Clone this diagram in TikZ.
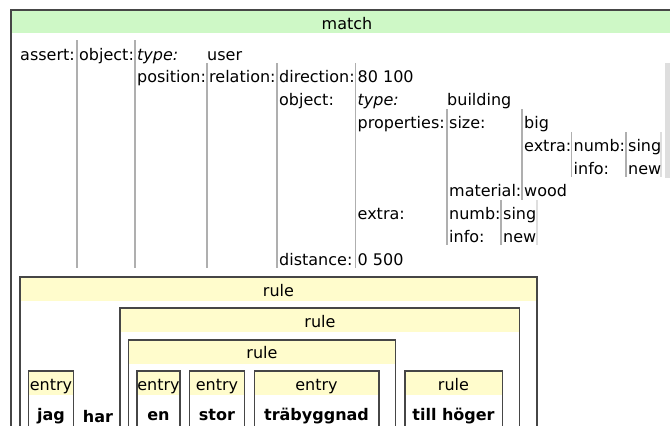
\documentclass[tikz,border=0pt]{standalone}
\usepackage{fontspec}
\setmainfont{DejaVu Sans}
\definecolor{matchGreen}{RGB}{206,248,198}
\definecolor{ruleYellow}{RGB}{255,252,204}
\definecolor{boxLine}{RGB}{70,70,70}
\definecolor{sepLine}{RGB}{175,175,175}
\definecolor{sepLight}{RGB}{222,222,222}
\begin{document}
\begin{tikzpicture}[x=1pt,y=-1pt]
		\tikzstyle{Key} = [anchor=base west, inner sep=0pt, font=\fontsize{16}{18}\selectfont]
		\tikzstyle{Type} = [Key, font=\fontsize{16}{18}\selectfont\itshape]
		\tikzstyle{Head} = [anchor=base, inner sep=0pt, font=\fontsize{16}{18}\selectfont]
		\tikzstyle{Word} = [anchor=base, inner sep=0pt, font=\fontsize{16}{18}\selectfont\bfseries]
		\tikzstyle{RuleBox} = [draw=boxLine, line width=1.3pt]
		\tikzstyle{Sep} = [draw=sepLine, line width=1.4pt]
		\tikzstyle{SepEnd} = [draw=sepLight, line width=1.4pt]
		
		\clip (0,0) rectangle (670,426);
		\fill [white] (0,0) rectangle (670,426);
		
		% match frame
		\fill [matchGreen] (11,10) rectangle (672,33);
		\draw [boxLine, line width=1.5pt] (11,450) -- (11,10) -- (672,10);
		\node (matchHead) [Head] at (347,29) {match};
		
		% column separators of the feature structure
		\draw [Sep] (77,40) -- (77,268);
		\draw [Sep] (135,40) -- (135,268);
		\draw [Sep] (207,63) -- (207,268);
		\draw [Sep] (277,63) -- (277,268);
		\draw [Sep] (355.5,63) -- (355.5,268);
		\draw [Sep] (447,109) -- (447,245);
		\draw [Sep] (522,109) -- (522,200);
		\draw [Sep] (571.5,132) -- (571.5,177);
		\draw [Sep] (626,132) -- (626,177);
		\draw [Sep] (501,200) -- (501,245);
		\draw [SepEnd] (537,200) -- (537,245);
		\draw [SepEnd] (661,132) -- (661,177);
		\fill [sepLight] (665,63) rectangle (670,178);
		
		\node (assertKey) [Key] at (20,60) {assert:};
		\node (objectKey) [Key] at (79,60) {object:};
		\node (typeKey) [Type] at (137,60) {type:};
		\node (userVal) [Key] at (207,60) {user};
		\node (positionKey) [Key] at (137,82.8) {position:};
		\node (relationKey) [Key] at (209,82.8) {relation:};
		\node (directionKey) [Key] at (279,82.8) {direction:};
		\node (directionVal) [Key] at (357.5,82.8) {80 100};
		\node (objKey) [Key] at (279,105.6) {object:};
		\node (objTypeKey) [Type] at (357.5,105.6) {type:};
		\node (buildingVal) [Key] at (447,105.6) {building};
		\node (propKey) [Key] at (357.5,128.4) {properties:};
		\node (sizeKey) [Key] at (449,128.4) {size:};
		\node (bigVal) [Key] at (524,128.4) {big};
		\node (sizeExtraKey) [Key] at (524,151.2) {extra:};
		\node (sizeNumbKey) [Key] at (573.5,151.2) {numb:};
		\node (sizeNumbVal) [Key] at (628,151.2) {sing};
		\node (sizeInfoKey) [Key] at (573.5,174) {info:};
		\node (sizeInfoVal) [Key] at (628,174) {new};
		\node (materialKey) [Key] at (449,196.8) {material:};
		\node (woodVal) [Key] at (524,196.8) {wood};
		\node (extraKey) [Key] at (357.5,219.6) {extra:};
		\node (numbKey) [Key] at (449,219.6) {numb:};
		\node (numbVal) [Key] at (503,219.6) {sing};
		\node (infoKey) [Key] at (449,242.4) {info:};
		\node (infoVal) [Key] at (503,242.4) {new};
		\node (distanceKey) [Key] at (279,265.2) {distance:};
		\node (distanceVal) [Key] at (357.5,265.2) {0 500};
		
		% nested rule boxes
		\fill [ruleYellow] (20,277) rectangle (537,300.5);
		\draw [RuleBox] (20,450) -- (20,277) -- (537,277) -- (537,450);
		\node (ruleA) [Head] at (278.5,296) {rule};
		
		\fill [ruleYellow] (120,308) rectangle (519.5,332);
		\draw [RuleBox] (120,450) -- (120,308) -- (519.5,308) -- (519.5,450);
		\node (ruleB) [Head] at (320,327) {rule};
		
		\fill [ruleYellow] (128.5,340) rectangle (395.5,363.5);
		\draw [RuleBox] (128.5,450) -- (128.5,340) -- (395.5,340) -- (395.5,450);
		\node (ruleC) [Head] at (262,358.5) {rule};
		
		% entry boxes
		\fill [ruleYellow] (28.5,371) rectangle (73.5,395);
		\draw [RuleBox] (28.5,450) -- (28.5,371) -- (73.5,371) -- (73.5,450);
		\node (jagHead) [Head] at (51,390.5) {entry};
		\node (jagWord) [Word] at (51,420) {jag};
		
		\node (harWord) [Word] at (98,422) {har};
		
		\fill [ruleYellow] (137,371) rectangle (180,395);
		\draw [RuleBox] (137,450) -- (137,371) -- (180,371) -- (180,450);
		\node (enHead) [Head] at (158.5,390.5) {entry};
		\node (enWord) [Word] at (158.5,420) {en};
		
		\fill [ruleYellow] (189.5,371) rectangle (244.5,395);
		\draw [RuleBox] (189.5,450) -- (189.5,371) -- (244.5,371) -- (244.5,450);
		\node (storHead) [Head] at (217,390.5) {entry};
		\node (storWord) [Word] at (217,420) {stor};
		
		\fill [ruleYellow] (254.5,371) rectangle (379,395);
		\draw [RuleBox] (254.5,450) -- (254.5,371) -- (379,371) -- (379,450);
		\node (traHead) [Head] at (316.5,390.5) {entry};
		\node (traWord) [Word] at (316.5,420) {träbyggnad};
		
		\fill [ruleYellow] (405,371) rectangle (502.5,395);
		\draw [RuleBox] (405,450) -- (405,371) -- (502.5,371) -- (502.5,450);
		\node (hogerHead) [Head] at (453.5,390.5) {rule};
		\node (hogerWord) [Word] at (453.5,420) {till höger};
\end{tikzpicture}
\end{document}
